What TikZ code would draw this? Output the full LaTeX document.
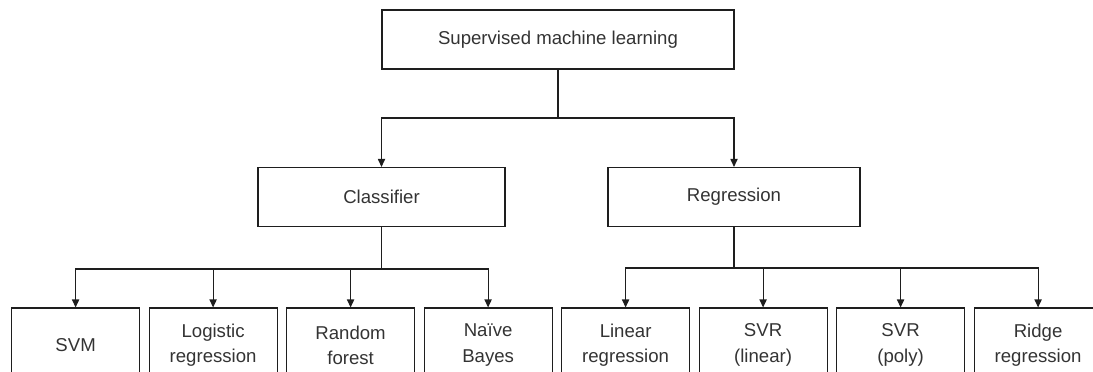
\documentclass[tikz,border=0pt]{standalone}
\usepackage{fontspec}
\setmainfont{Liberation Sans}
\usetikzlibrary{positioning,arrows.meta}
\definecolor{trazo}{HTML}{1E1E1E}
\definecolor{texto}{HTML}{333333}

\begin{document}
\begin{tikzpicture}[x=0.5pt,y=-0.5pt,
      caja/.style={draw=trazo,line width=0.55pt,inner sep=0pt,align=center,text=texto,
                   font=\fontsize{9.3}{12.6}\selectfont,minimum height=29.5pt},
      hoja/.style={caja,minimum width=64pt,minimum height=37pt},
      flecha/.style={-{Triangle[length=4pt,width=3.6pt]},line width=0.55pt,trazo},
      conector/.style={line width=0.55pt,trazo},
      node distance=4.2pt]
    \clip (0,0) rectangle (1093,371);
    \useasboundingbox (0,0) rectangle (1093,371);
    % raiz y segundo nivel
    \node[caja,minimum width=176pt] (sml) at (558,39.5) {Supervised machine learning};
    \node[caja,minimum width=123.5pt] (clf) at (381.5,197) {Classifier};
    \node[caja,minimum width=126pt] (rgr) at (734,197) {Regression};
    % hojas
    \node[hoja] (svm) at (75.6,345) {SVM};
    \node[hoja,right=of svm] (log) {Logistic\\regression};
    \node[hoja,right=of log] (rf) {Random\\forest};
    \node[hoja,right=of rf] (nb) {Naïve\\Bayes};
    \node[hoja,right=of nb] (lin) {Linear\\regression};
    \node[hoja,right=of lin] (svrl) {SVR\\(linear)};
    \node[hoja,right=of svrl] (svrp) {SVR\\(poly)};
    \node[hoja,right=of svrp] (rdg) {Ridge\\regression};
    % uniones
    \coordinate (jt) at (558,118);
    \coordinate (jc) at (381.5,269);
    \coordinate (jr) at (734,268);
    \draw[conector] (sml) -- (jt);
    \draw[flecha] (jt) -| (clf);
    \draw[flecha] (jt) -| (rgr);
    \draw[conector] (clf) -- (jc);
    \draw[flecha] (jc) -| (svm);
    \draw[flecha] (jc) -| (log);
    \draw[flecha] (jc) -| (rf);
    \draw[flecha] (jc) -| (nb);
    \draw[conector] (rgr) -- (jr);
    \draw[flecha] (jr) -| (lin);
    \draw[flecha] (jr) -| (svrl);
    \draw[flecha] (jr) -| (svrp);
    \draw[flecha] (jr) -| (rdg);
  \end{tikzpicture}
\end{document}
